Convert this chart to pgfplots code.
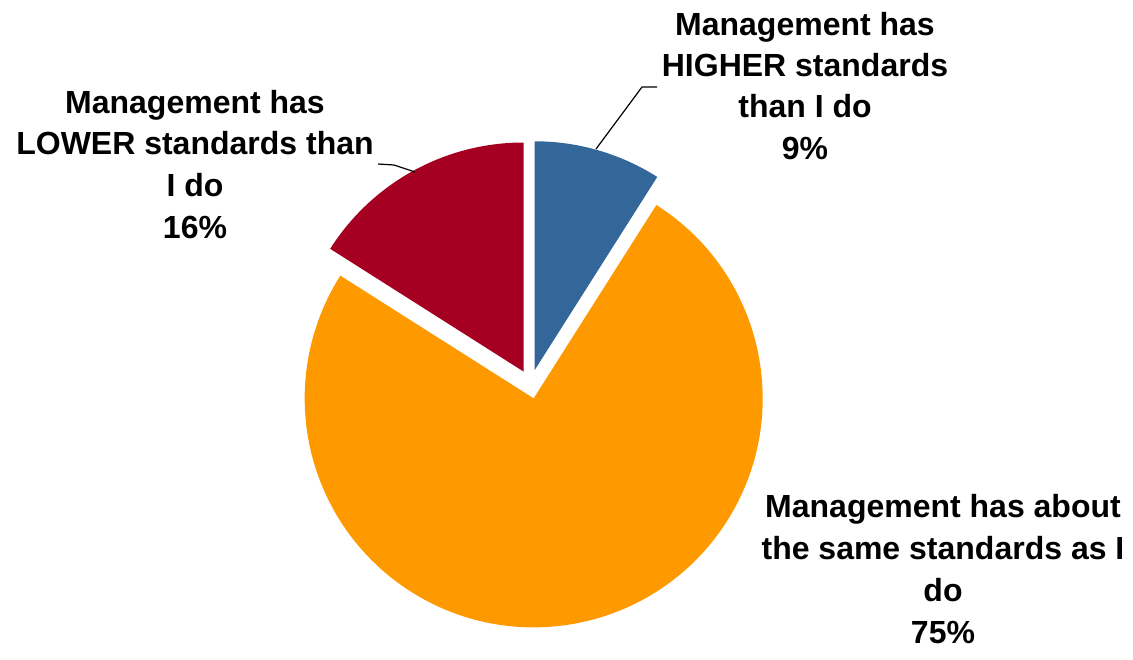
\documentclass[border=0pt]{standalone}
\usepackage{fontspec}
\setmainfont{Liberation Sans}
\usepackage{pgfplots}
\pgfplotsset{compat=1.18}
\definecolor{cblue}{HTML}{336699}
\definecolor{corange}{HTML}{FF9900}
\definecolor{cred}{HTML}{A50021}
\tikzset{lab/.style={anchor=base, font=\bfseries\fontsize{16}{19}\selectfont, inner sep=0pt}}
\begin{document}
\begin{tikzpicture}
\begin{axis}[scale only axis, width=566.5pt, height=323.5pt,
  xmin=0, xmax=1133, ymin=0, ymax=647, hide axis, clip=false]
\path (axis cs:0,0) rectangle (axis cs:1133,647);
% shares (percent), clockwise from 12 o'clock
\pgfplotsextra{
  \gdef\startang{90}
  \foreach \val/\col in {9/cblue,75/corange,16/cred}{
    \pgfmathsetmacro\s{\startang}
    \pgfmathsetmacro\e{\s-3.6*\val}
    \pgfmathsetmacro\m{(\s+\e)/2}
    \pgfmathsetmacro\cx{530.5+14.5*cos(\m)}
    \pgfmathsetmacro\cy{262.8+14.5*sin(\m)}
    \fill[\col] (axis cs:\cx,\cy) -- ++(\s:114.5pt) arc[start angle=\s, end angle=\e, radius=114.5pt] -- cycle;
    \xdef\startang{\e}
  }
}
% leader lines
\draw[black, line width=0.6pt] (axis cs:657,560) -- (axis cs:642,560) -- (axis cs:596,498);
\draw[black, line width=0.6pt] (axis cs:378,483) -- (axis cs:394,482) -- (axis cs:415,475);
% labels
\node[lab] at (axis cs:805,612) {Management has};
\node[lab] at (axis cs:805,571) {HIGHER standards};
\node[lab] at (axis cs:805,530) {than I do};
\node[lab] at (axis cs:805,488) {9\%};
\node[lab] at (axis cs:195,534) {Management has};
\node[lab] at (axis cs:195,493) {LOWER standards than};
\node[lab] at (axis cs:195,451) {I do};
\node[lab] at (axis cs:195,409) {16\%};
\node[lab] at (axis cs:943,130) {Management has about};
\node[lab] at (axis cs:943,88) {the same standards as I};
\node[lab] at (axis cs:943,46) {do};
\node[lab] at (axis cs:943,4) {75\%};
\end{axis}
\end{tikzpicture}
\end{document}
